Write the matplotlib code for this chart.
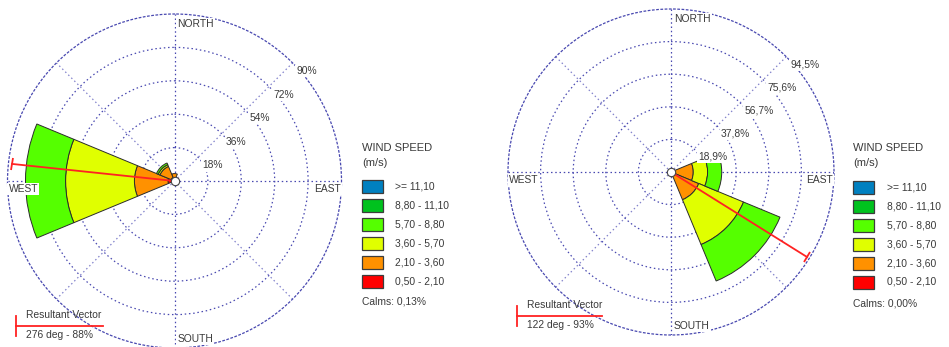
import numpy as np
import matplotlib
matplotlib.use("Agg")
import matplotlib.pyplot as plt
from matplotlib.patches import Rectangle
from matplotlib.lines import Line2D
from matplotlib.markers import MarkerStyle
from matplotlib.transforms import Affine2D

plt.rcParams['font.family'] = ['Liberation Sans', 'DejaVu Sans']

W, H = 949, 347

# direction sectors (compass degrees): N, NE, E, SE, S, SW, W, NW
directions = [0, 45, 90, 135, 180, 225, 270, 315]

# speed classes, slowest first
speed_bins = ['0,50 - 2,10', '2,10 - 3,60', '3,60 - 5,70',
              '5,70 - 8,80', '8,80 - 11,10', '>= 11,10']
bin_colors = ['#ff0000', '#ff9100', '#e0ff00', '#55ff00', '#00c21e', '#0080c0']

# station A: frequency (%) per speed class and direction sector
a_050_210 = [1.0, 0, 0, 0, 0, 0, 3.5, 2.0]
a_210_360 = [3.0, 0, 0, 0, 0, 0, 18.1, 6.5]
a_360_570 = [0, 0, 0, 0, 0, 0, 37.1, 1.0]
a_570_880 = [0, 0, 0, 0, 0, 0, 21.6, 1.0]
a_880_1110 = [0, 0, 0, 0, 0, 0, 0, 0]
a_ge_1110 = [0, 0, 0, 0, 0, 0, 0, 0]
a_rings = [18, 36, 54, 72, 90]
a_ring_labels = ['18%', '36%', '54%', '72%', '90%']
a_vec_dir, a_vec_pct = 276, 88
a_calms = 'Calms: 0,13%'

# station B
b_050_210 = [0, 0, 0, 0, 0, 0, 0, 0]
b_210_360 = [0, 0, 12.9, 17.4, 0, 0, 0, 0]
b_360_570 = [0, 0, 8.3, 28.1, 0, 0, 0, 0]
b_570_880 = [0, 0, 8.2, 22.9, 0, 0, 0, 0]
b_880_1110 = [0, 0, 0, 0, 0, 0, 0, 0]
b_ge_1110 = [0, 0, 0, 0, 0, 0, 0, 0]
b_rings = [18.9, 37.8, 56.7, 75.6, 94.5]
b_ring_labels = ['18,9%', '37,8%', '56,7%', '75,6%', '94,5%']
b_vec_dir, b_vec_pct = 122, 93
b_calms = 'Calms: 0,00%'

GRID = '#4848b0'
GRID_DIAG = '#8484cc'
DOTS = (0, (1.2, 2.2))
TXT = '#3a3a3a'
VEC = '#ff2222'
FS = 7.4

fig = plt.figure(figsize=(W / 100, H / 100), dpi=100)
fig.patch.set_facecolor('white')


def fx(x):
    return x / W


def fy(y):
    return 1 - y / H


def label_box():
    return dict(facecolor='white', edgecolor='none', pad=0.8)


def draw_rose(cx, cy, R, freqs, rings, ring_labels, vec_dir, vec_pct):
    rect = [(cx - R) / W, (H - cy - R) / H, 2 * R / W, 2 * R / H]
    ax = fig.add_axes(rect, projection='polar')
    ax.set_theta_zero_location('N')
    ax.set_theta_direction(-1)
    ax.set_ylim(0, rings[-1])
    ax.set_axisbelow(True)
    ax.set_facecolor('white')

    theta = np.deg2rad(directions)
    width = np.deg2rad(45)
    bottom = np.zeros(len(directions))
    for vals, col in zip(freqs, bin_colors):
        vals = np.asarray(vals, dtype=float)
        m = vals > 0
        if m.any():
            ax.bar(theta[m], vals[m], width=width, bottom=bottom[m],
                   color=col, edgecolor='#2b2b2b', linewidth=0.7, zorder=2)
        bottom += vals

    ax.set_rgrids(rings[:-1], labels=[''] * (len(rings) - 1))
    ax.set_thetagrids(directions, labels=[''] * len(directions))
    ax.grid(True, color=GRID, linestyle=DOTS, linewidth=0.9)
    for d, gl in zip(directions, ax.xaxis.get_gridlines()):
        if d % 90:
            gl.set_color(GRID_DIAG)
    ax.spines['polar'].set(color=GRID, linestyle=DOTS, linewidth=0.9)
    ax.tick_params(length=0)

    # ring labels along the NE spoke
    for r, lab in zip(rings, ring_labels):
        ax.annotate(lab, xy=(np.deg2rad(45), r), xytext=(4, -8),
                    textcoords='offset pixels', ha='left', va='center',
                    fontsize=FS, color=TXT, bbox=label_box(), zorder=6,
                    annotation_clip=False)

    rmax = rings[-1]
    card = [('NORTH', 0, (3, -10), 'left'),
            ('SOUTH', 180, (3, 9), 'left'),
            ('EAST', 90, (-1, -8), 'right'),
            ('WEST', 270, (1, -8), 'left')]
    for lab, d, off, ha in card:
        ax.annotate(lab, xy=(np.deg2rad(d), rmax), xytext=off,
                    textcoords='offset pixels', ha=ha, va='center',
                    fontsize=FS, color=TXT, bbox=label_box(), zorder=6,
                    annotation_clip=False)

    # resultant vector
    th = np.deg2rad(vec_dir)
    ax.plot([th, th], [0, vec_pct], color=VEC, lw=1.3, zorder=4)
    tick = MarkerStyle('|', transform=Affine2D().rotate_deg(90 - vec_dir))
    ax.plot([th], [vec_pct], marker=tick, ms=8, mew=1.3, color=VEC,
            zorder=4, clip_on=False)
    ax.plot([0], [0], 'o', ms=6, mfc='white', mec='#444444', mew=0.8,
            zorder=7, clip_on=False)
    return ax


def draw_legend(x, xl, row_y, calms, y_title=148, y_unit=163, y_calms=302):
    fig.text(fx(x), fy(y_title), 'WIND SPEED', fontsize=8, color=TXT,
             ha='left', va='center')
    fig.text(fx(x), fy(y_unit), '(m/s)', fontsize=8, color=TXT,
             ha='left', va='center')
    for i, (lab, col) in enumerate(zip(speed_bins[::-1], bin_colors[::-1])):
        yc = row_y[i]
        fig.add_artist(Rectangle((fx(x), fy(yc + 6.5)), 21 / W, 13 / H,
                                 transform=fig.transFigure, facecolor=col,
                                 edgecolor='#3c3c3c', linewidth=0.9))
        fig.text(fx(xl), fy(yc), lab, fontsize=FS, color=TXT,
                 ha='left', va='center')
    fig.text(fx(x), fy(y_calms), calms, fontsize=FS, color=TXT,
             ha='left', va='center')


def draw_vector_key(x, y_line, x_end, text):
    fig.add_artist(Line2D([fx(x), fx(x)], [fy(y_line - 10), fy(y_line + 10)],
                          transform=fig.transFigure, color=VEC, lw=1.3))
    fig.add_artist(Line2D([fx(x), fx(x_end)], [fy(y_line), fy(y_line)],
                          transform=fig.transFigure, color=VEC, lw=1.3))
    fig.text(fx(x + 10.5), fy(y_line - 11), 'Resultant Vector', fontsize=FS,
             color=TXT, ha='left', va='center')
    fig.text(fx(x + 10.5), fy(y_line + 9), text, fontsize=FS,
             color=TXT, ha='left', va='center')


a_freqs = [a_050_210, a_210_360, a_360_570, a_570_880, a_880_1110, a_ge_1110]
b_freqs = [b_050_210, b_210_360, b_360_570, b_570_880, b_880_1110, b_ge_1110]

draw_rose(174.5, 181, 167, a_freqs, a_rings, a_ring_labels, a_vec_dir, a_vec_pct)
draw_rose(671, 172, 163, b_freqs, b_rings, b_ring_labels, b_vec_dir, b_vec_pct)

rows = [186.7 + 18.9 * i for i in range(6)]
draw_legend(362, 395, rows, a_calms, y_calms=301.5)
draw_legend(853, 887, [r + 0.8 for r in rows], b_calms, y_calms=303)

draw_vector_key(15.7, 325.7, 103, f'{a_vec_dir} deg - {a_vec_pct}%')
draw_vector_key(516.7, 315.5, 601.7, f'{b_vec_dir} deg - {b_vec_pct}%')

fig.savefig('out.png', dpi=100, facecolor='white')
